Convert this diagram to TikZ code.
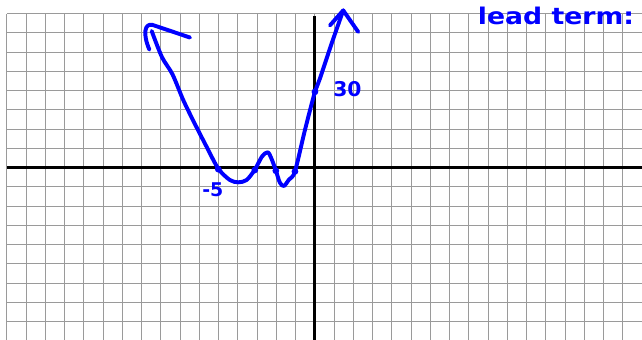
\documentclass[tikz,border=0pt]{standalone}
\definecolor{penblue}{HTML}{0000FF}
\definecolor{gridgray}{HTML}{9A9A9A}
\usepackage{fontspec}
\setsansfont{DejaVu Sans}
\usepackage{tikz}
\usetikzlibrary{positioning}

\tikzset{
  gridline/.style={draw=gridgray, line width=0.75pt},
  axisline/.style={draw=black, line width=2.6pt},
  pen/.style={draw=penblue, line width=2.9pt, line cap=round, line join=round},
  penlabel/.style={text=penblue, inner sep=0pt, font=\sffamily\bfseries},
  zerodot/.style={circle, fill=penblue, inner sep=0pt, minimum size=5pt}
}

\begin{document}
\begin{tikzpicture}[x=0.5cm, y=0.5cm]
  \useasboundingbox (-16.36,-8.95) rectangle (16.99,8.71);

  % graph paper and axes
  \draw[gridline, step=1] (-16,-9.5) grid (17.5,8);
  \draw[axisline] (-16,0) -- (17.5,0);
  \draw[axisline, line width=2.2pt] (0,7.86) -- (0,-9.5);

  % sketch of the polynomial
  \draw[pen] plot[smooth, tension=0.5] coordinates {
    (-8.48,7.10) (-7.95,5.75) (-7.40,4.85) (-6.84,3.51)
    (-6.25,2.30) (-5.63,1.09) (-5.02,-0.05) (-4.42,-0.64) (-3.98,-0.76)
    (-3.55,-0.64) (-3.12,-0.10) (-2.75,0.58) (-2.45,0.80) (-2.25,0.45)
    (-2.03,-0.15) (-1.82,-0.78) (-1.61,-0.95) (-1.35,-0.62) (-1.04,-0.20)
    (-0.52,1.95) (0,3.94) (0.26,4.63) (0.85,6.40) (1.47,8.17)};

  % hand drawn arrow heads
  \draw[pen] (-8.60,6.13) .. controls (-8.95,6.95) and (-8.85,7.50) .. (-8.45,7.42)
    -- (-6.49,6.76);
  \draw[pen] (0.78,7.39) -- (1.47,8.17) -- (2.25,7.05);

  % intercepts
  \node[zerodot] (xa) at (-5.02,-0.08) {};
  \node[zerodot] (xb) at (-3.12,-0.12) {};
  \node[zerodot] (xc) at (-2.03,-0.16) {};
  \node[zerodot] (xd) at (-1.04,-0.20) {};
  \node[zerodot] (yint) at (0,3.94) {};

  \node[penlabel, font=\sffamily\bfseries\fontsize{15}{15}\selectfont] (thirty) at (1.69,4.08) {30};
  \node[penlabel, font=\sffamily\bfseries\fontsize{14}{14}\selectfont] (minusfive) at (-5.3,-1.16) {-5};
  \node[penlabel, anchor=base west, font=\sffamily\bfseries\fontsize{17}{17}\selectfont]
    (leadterm) at (8.45,7.45) {\scalebox{1.16}[1]{lead term:}};
\end{tikzpicture}
\end{document}
